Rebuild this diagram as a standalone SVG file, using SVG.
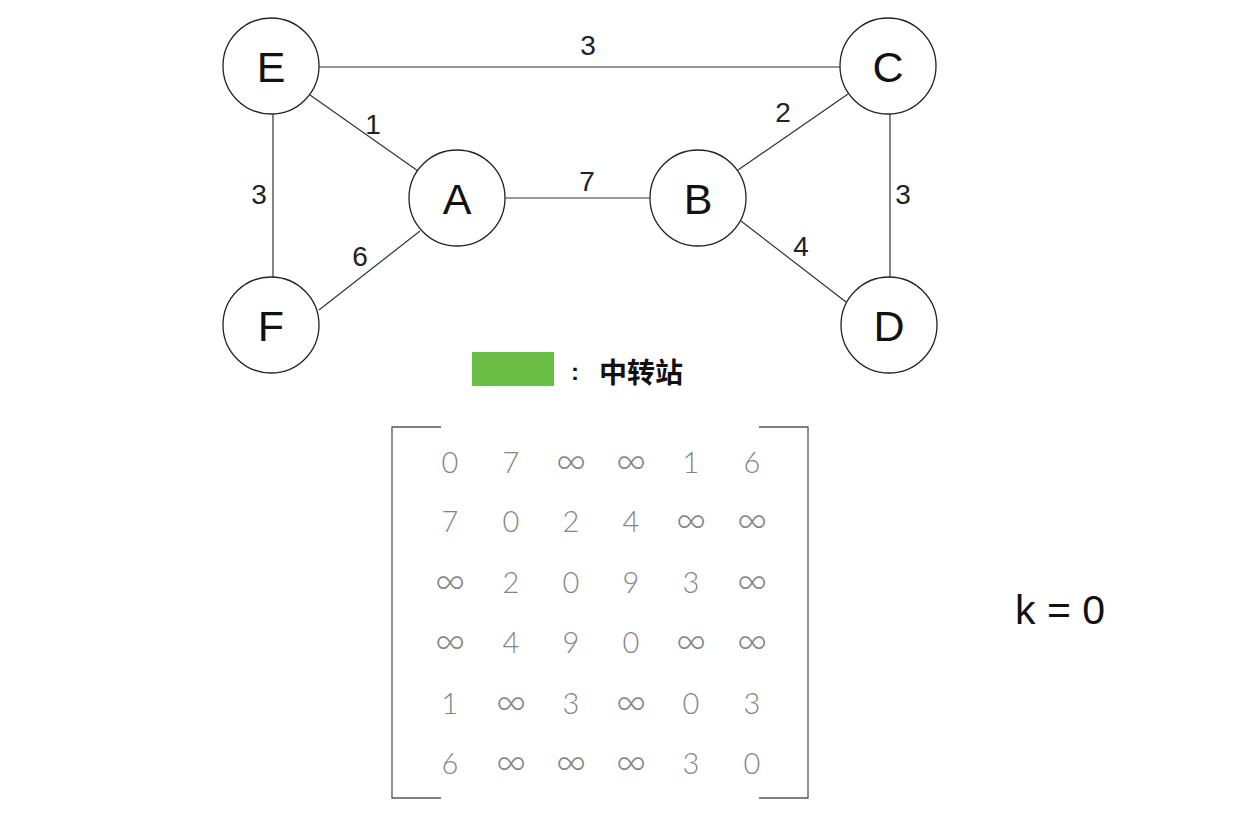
<svg xmlns="http://www.w3.org/2000/svg" width="1239" height="828" viewBox="0 0 1239 828">
<style>
.node circle{fill:#fff;stroke:#222;stroke-width:1.3}
.node text{font-family:"Liberation Sans",Arial,sans-serif;font-size:43px;fill:#111;text-anchor:middle;dominant-baseline:central}
.edge{stroke:#333;stroke-width:1.2}
.w{font-family:"Liberation Sans",Arial,sans-serif;font-size:28px;fill:#222;text-anchor:middle;dominant-baseline:central}
.m{font-family:Lato,"Open Sans","Liberation Sans",sans-serif;font-weight:300;font-size:29px;fill:#858585;text-anchor:middle;dominant-baseline:central}
.m.i{font-size:42px}
.br{stroke:#555;stroke-width:1.3;fill:none}
</style>
<rect width="1239" height="828" fill="#fff"/>
<g id="connectors">
<line class="edge" x1="319" y1="67" x2="840" y2="67"/>
<line class="edge" x1="310" y1="95" x2="418" y2="171"/>
<line class="edge" x1="273" y1="114" x2="273" y2="277"/>
<line class="edge" x1="319" y1="310" x2="420" y2="231"/>
<line class="edge" x1="505" y1="198" x2="650" y2="198"/>
<line class="edge" x1="738" y1="170" x2="848" y2="94"/>
<line class="edge" x1="890" y1="114" x2="890" y2="277"/>
<line class="edge" x1="741" y1="221" x2="846" y2="302"/>
<text class="w" x="588" y="45">3</text>
<text class="w" x="373" y="124">1</text>
<text class="w" x="783" y="112">2</text>
<text class="w" x="587" y="181">7</text>
<text class="w" x="259" y="194">3</text>
<text class="w" x="903" y="194">3</text>
<text class="w" x="360" y="256">6</text>
<text class="w" x="801" y="246">4</text>
</g>
<g id="node-E" class="node"><circle cx="271" cy="66" r="48"/><text x="271" y="67">E</text></g>
<g id="node-C" class="node"><circle cx="888" cy="66" r="48"/><text x="888" y="67">C</text></g>
<g id="node-A" class="node"><circle cx="457" cy="198" r="48"/><text x="457" y="199">A</text></g>
<g id="node-B" class="node"><circle cx="698" cy="198" r="48"/><text x="698" y="199">B</text></g>
<g id="node-F" class="node"><circle cx="271" cy="325" r="48"/><text x="271" y="326">F</text></g>
<g id="node-D" class="node"><circle cx="889" cy="325" r="48"/><text x="889" y="326">D</text></g>
<g id="legend">
<rect x="472" y="352" width="82" height="34" fill="#6BBE45"/>
<text x="575" y="371" font-family="'Liberation Sans','Noto Sans CJK SC',sans-serif" font-size="24" font-weight="bold" fill="#111" text-anchor="middle" dominant-baseline="central">:</text>
<text x="599" y="371" font-family="'Noto Sans CJK SC',sans-serif" font-size="28" font-weight="bold" fill="#111" dominant-baseline="central">中转站</text>
</g>
<g id="matrix">
<path class="br" d="M441,427 H392 V798 H441"/>
<path class="br" d="M759,427 H808 V798 H759"/>
<g>
<text class="m" x="450" y="461">0</text><text class="m" x="511" y="461">7</text><text class="m i" x="571" y="459">∞</text><text class="m i" x="631" y="459">∞</text><text class="m" x="691" y="461">1</text><text class="m" x="752" y="461">6</text>
<text class="m" x="450" y="520">7</text><text class="m" x="511" y="520">0</text><text class="m" x="571" y="520">2</text><text class="m" x="631" y="520">4</text><text class="m i" x="691" y="518">∞</text><text class="m i" x="752" y="518">∞</text>
<text class="m i" x="450" y="579">∞</text><text class="m" x="511" y="581">2</text><text class="m" x="571" y="581">0</text><text class="m" x="631" y="581">9</text><text class="m" x="691" y="581">3</text><text class="m i" x="752" y="579">∞</text>
<text class="m i" x="450" y="639">∞</text><text class="m" x="511" y="641">4</text><text class="m" x="571" y="641">9</text><text class="m" x="631" y="641">0</text><text class="m i" x="691" y="639">∞</text><text class="m i" x="752" y="639">∞</text>
<text class="m" x="450" y="702">1</text><text class="m i" x="511" y="700">∞</text><text class="m" x="571" y="702">3</text><text class="m i" x="631" y="700">∞</text><text class="m" x="691" y="702">0</text><text class="m" x="752" y="702">3</text>
<text class="m" x="450" y="762">6</text><text class="m i" x="511" y="760">∞</text><text class="m i" x="571" y="760">∞</text><text class="m i" x="631" y="760">∞</text><text class="m" x="691" y="762">3</text><text class="m" x="752" y="762">0</text>
</g>
</g>
<text id="k-label" x="1060" y="610" font-family="'Liberation Sans',Arial,sans-serif" font-size="41" fill="#111" text-anchor="middle" dominant-baseline="central">k = 0</text>
</svg>
